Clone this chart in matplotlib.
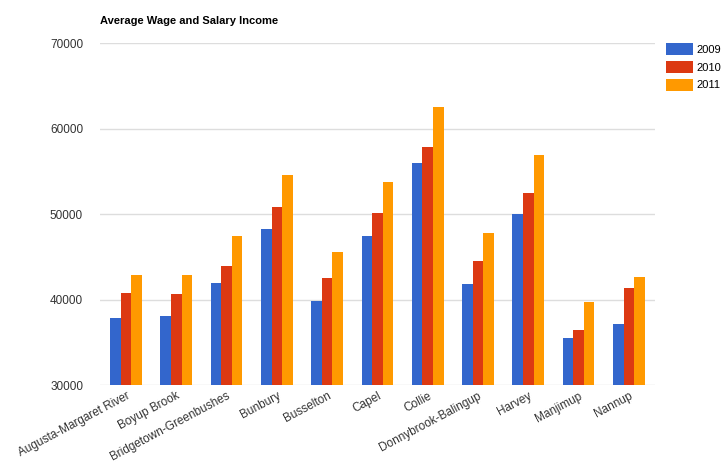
import matplotlib
matplotlib.use("Agg")
import matplotlib.pyplot as plt
import numpy as np

plt.rcParams['font.family'] = ['Liberation Sans', 'DejaVu Sans']

regions = ["Augusta-Margaret River", "Boyup Brook", "Bridgetown-Greenbushes", "Bunbury",
           "Busselton", "Capel", "Collie", "Donnybrook-Balingup", "Harvey", "Manjimup", "Nannup"]
years = ["2009", "2010", "2011"]
wage_2009 = [37800, 38050, 41950, 48300, 39850, 47450, 56000, 41850, 49950, 35550, 37100]
wage_2010 = [40800, 40700, 43900, 50800, 42550, 50150, 57850, 44450, 52500, 36450, 41350]
wage_2011 = [42900, 42900, 47450, 54550, 45550, 53800, 62550, 47750, 56950, 39750, 42600]
colors = ['#3366cc', '#dc3912', '#ff9900']

fig = plt.figure(figsize=(7.23, 4.73), dpi=100)
ax = fig.add_axes([0.138, 0.186, 0.768, 0.723])

x = np.arange(len(regions))
w = 0.21
for i, (vals, c, yr) in enumerate(zip([wage_2009, wage_2010, wage_2011], colors, years)):
    ax.bar(x + (i - 1) * w, np.array(vals) - 30000, bottom=30000, width=w,
           color=c, label=yr, zorder=3)

ax.set_ylim(30000, 70000)
ax.set_xlim(-0.52, 10.52)
ax.set_yticks([30000, 40000, 50000, 60000, 70000])
ax.yaxis.grid(True, color='#dddddd', linewidth=1, zorder=0)
for s in ax.spines.values():
    s.set_visible(False)
ax.tick_params(axis='both', length=0, labelsize=8.5, colors='#333333')
ax.tick_params(axis='y', pad=12)
ax.set_xticks(x)
ax.set_xticklabels(regions, rotation=28, ha='right', rotation_mode='anchor')

fig.text(0.138, 0.955, "Average Wage and Salary Income", fontsize=8, fontweight='bold',
         ha='left', va='center')

ax.legend(loc='upper left', bbox_to_anchor=(1.012, 1.012), frameon=False, fontsize=8,
          handlelength=2.4, handleheight=1.3, handletextpad=0.3, labelspacing=0.5,
          borderaxespad=0)

fig.savefig("out.png", dpi=100)
